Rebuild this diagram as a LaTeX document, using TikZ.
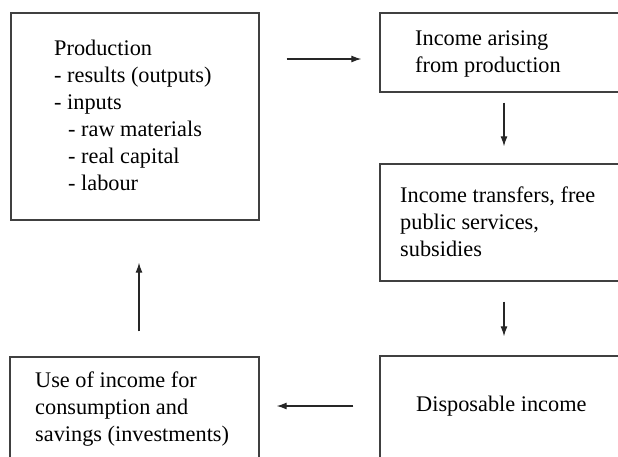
\documentclass[tikz,border=0pt]{standalone}
\usepackage{fontspec}
\setmainfont{Liberation Serif}
\usetikzlibrary{arrows.meta}
\begin{document}
\begin{tikzpicture}[x=1pt,y=-1pt,
  box/.style={draw=black!75,line width=1.3pt,rectangle,inner sep=0pt},
  txt/.style={anchor=north west,inner sep=0pt,align=left,font=\fontsize{22.3}{27}\selectfont},
  arr/.style={draw=black!85,line width=1.2pt,-{Latex[length=10pt,width=7pt]}}]
\useasboundingbox (0,0) rectangle (618,456);
\begin{scope}
\clip (0,0) rectangle (618,456);
\node[box,minimum width=248pt,minimum height=207pt] (prod) at (135,116.5) {};
\node[box,minimum width=248pt,minimum height=79pt] (inc) at (504,52.5) {};
\node[box,minimum width=248pt,minimum height=117pt] (trans) at (504,222.5) {};
\node[box,minimum width=248pt,minimum height=114pt] (disp) at (504,413) {};
\node[box,minimum width=249pt,minimum height=113pt] (use) at (134.5,413.5) {};
\end{scope}
\node[txt] (prodtxt) at (54,36.1) {\strut Production\\- results (outputs)\\- inputs\\\hspace*{14pt}- raw materials\\\hspace*{14pt}- real capital\\\hspace*{14pt}- labour};
\node[txt] (inctxt) at (415,26.1) {\strut Income arising\\from production};
\node[txt] (transtxt) at (400,183.1) {\strut Income transfers, free\\public services,\\subsidies};
\node[txt] (disptxt) at (416,392.1) {\strut Disposable income};
\node[txt] (usetxt) at (35,368.1) {\strut Use of income for\\consumption and\\savings (investments)};
\draw[arr,shorten <=27pt,shorten >=18pt] (prod.east |- 0,59) -- (inc.west |- 0,59);
\draw[arr,shorten <=10pt,shorten >=17pt] (inc.south) -- (trans.north);
\draw[arr,shorten <=20pt,shorten >=19pt] (trans.south) -- (disp.north);
\draw[arr,shorten <=26pt,shorten >=17pt] (disp.west |- 0,406) -- (use.east |- 0,406);
\draw[arr,shorten <=25pt,shorten >=42pt] (use.north -| 139,0) -- (prod.south -| 139,0);
\end{tikzpicture}
\end{document}
